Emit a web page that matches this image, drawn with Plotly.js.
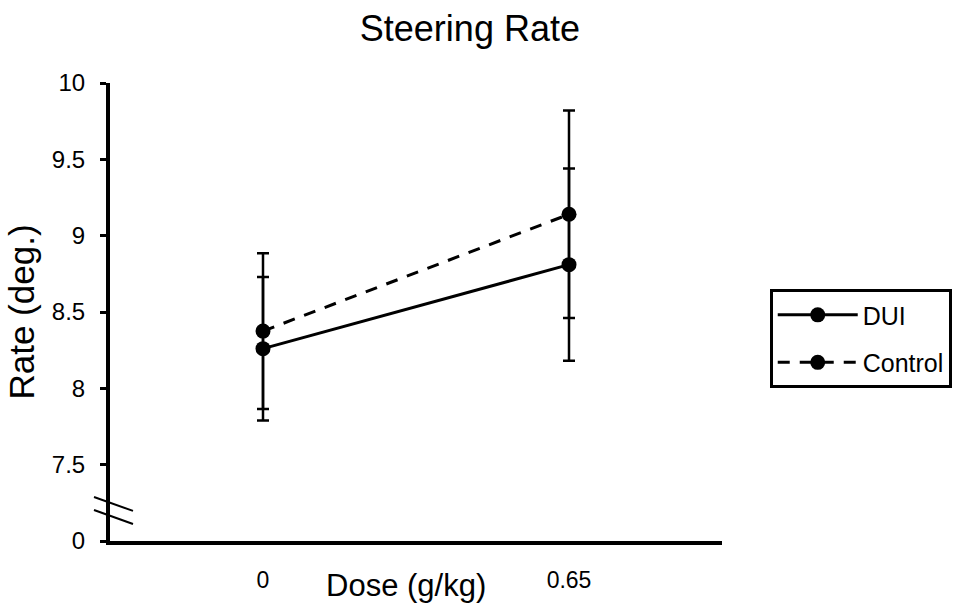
<!DOCTYPE html>
<html>
<head>
<meta charset="utf-8">
<script src="https://cdn.plot.ly/plotly-3.0.1.min.js"></script>
<style>html,body{margin:0;padding:0;background:#fff;}#chart{width:957px;height:608px;}</style>
</head>
<body>
<div id="chart"></div>
<script>
// Data
const doses = ["0", "0.65"];
const duiRate = [8.26, 8.81];
const duiErr = [0.47, 0.63];
const controlRate = [8.375, 9.14];
const controlErr = [0.51, 0.68];
// y axis: the bottom tick stands for 0 (broken axis); the drawn scale starts at 7
const yTickVals = [7, 7.5, 8, 8.5, 9, 9.5, 10];
const yTickText = ["0", "7.5", "8", "8.5", "9", "9.5", "10"];

const FONT = "Arial, 'Liberation Sans', sans-serif";

const traces = [
  {
    x: doses, y: duiRate, name: "DUI", type: "scatter", mode: "lines+markers",
    legendgroup: "a",
    line: {color: "#000", width: 3, dash: "solid"},
    marker: {color: "#000", size: 15},
    error_y: {type: "data", array: duiErr, visible: true, color: "#000", thickness: 2.5, width: 6}
  },
  {
    x: doses, y: controlRate, name: "Control", type: "scatter", mode: "lines+markers",
    legendgroup: "b",
    line: {color: "#000", width: 3, dash: "12px,10px"},
    marker: {color: "#000", size: 15},
    error_y: {type: "data", array: controlErr, visible: true, color: "#000", thickness: 2.5, width: 6}
  }
];

const layout = {
  width: 957, height: 608,
  margin: {l: 110, r: 235, t: 83, b: 67, autoexpand: false},
  paper_bgcolor: "#fff", plot_bgcolor: "#fff",
  font: {family: FONT, color: "#000", size: 24},
  showlegend: true,
  title: {text: "Steering Rate", font: {family: FONT, size: 36, color: "#000"},
          x: 0.491, xref: "container", xanchor: "center", y: 0.954, yref: "container", yanchor: "middle"},
  xaxis: {
    type: "category", range: [-0.5, 1.5],
    showline: true, linecolor: "#000", linewidth: 4,
    showgrid: false, zeroline: false,
    ticks: "", ticklabelstandoff: 15,
    tickfont: {family: FONT, size: 23, color: "#000"}
  },
  yaxis: {
    range: [7, 10], tickvals: yTickVals, ticktext: yTickText,
    showline: true, linecolor: "#000", linewidth: 4,
    showgrid: false, zeroline: false,
    ticks: "outside", ticklen: 6, tickwidth: 3, tickcolor: "#000",
    ticklabelstandoff: 10,
    tickfont: {family: FONT, size: 24, color: "#000"},
    title: {text: "Rate (deg.)", font: {family: FONT, size: 35, color: "#000"}, standoff: 8}
  },
  legend: {
    x: 1.078, xanchor: "left", y: 0.55, yanchor: "top",
    bordercolor: "#000", borderwidth: 3, bgcolor: "#fff",
    font: {family: FONT, size: 25, color: "#000"},
    itemwidth: 80, tracegroupgap: 12
  },
  annotations: [
    {text: "Dose (g/kg)", xref: "paper", yref: "paper", x: (406 - 110) / 612, y: (541 - 585) / 458,
     xanchor: "center", yanchor: "middle", showarrow: false,
     font: {family: FONT, size: 31, color: "#000"}}
  ],
  shapes: [
    {type: "line", xref: "paper", yref: "y", x0: (94 - 110) / 612, x1: (133 - 110) / 612, y0: 7.288, y1: 7.197,
     line: {color: "#000", width: 2}},
    {type: "line", xref: "paper", yref: "y", x0: (94 - 110) / 612, x1: (133 - 110) / 612, y0: 7.203, y1: 7.111,
     line: {color: "#000", width: 2}}
  ]
};

Plotly.newPlot("chart", traces, layout, {displayModeBar: false, staticPlot: true});
</script>
</body>
</html>
